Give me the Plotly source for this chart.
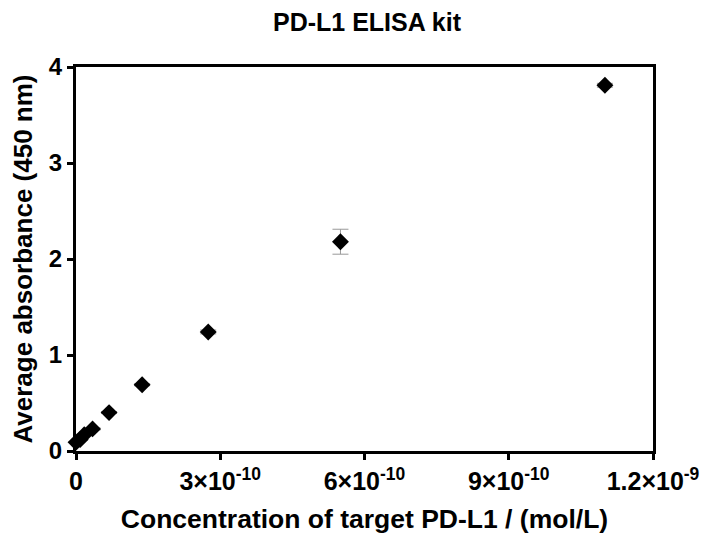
import plotly.graph_objects as go

conc = [0, 8.6e-12, 1.72e-11, 3.44e-11, 6.875e-11, 1.375e-10, 2.75e-10, 5.5e-10, 1.1e-9]
absorb = [0.09, 0.12, 0.17, 0.23, 0.40, 0.69, 1.24, 2.18, 3.81]
err = [0.005, 0.005, 0.005, 0.01, 0.01, 0.01, 0.02, 0.13, 0.02]

x_tickvals = [0, 3e-10, 6e-10, 9e-10, 1.2e-9]
x_ticktext = ["<b>0</b>", "<b>3×10<sup>-10</sup></b>", "<b>6×10<sup>-10</sup></b>",
              "<b>9×10<sup>-10</sup></b>", "<b>1.2×10<sup>-9</sup></b>"]
y_tickvals = [0, 1, 2, 3, 4]
y_ticktext = ["<b>%d</b>" % v for v in y_tickvals]

fig = go.Figure()
fig.add_trace(go.Scatter(
    x=conc, y=absorb, mode="markers",
    marker=dict(symbol="diamond", size=13, color="black"),
    error_y=dict(type="data", array=err, color="#999999", thickness=1, width=8),
    cliponaxis=False, showlegend=False,
))

# page has an 8px body margin, so the figure is 704x527 and shifted accordingly
fig.update_layout(
    width=704, height=527,
    paper_bgcolor="white", plot_bgcolor="white",
    margin=dict(l=68, r=59, t=59, b=84, autoexpand=False),
    font=dict(family="Liberation Sans, Arial, sans-serif", color="black"),
    title=dict(text="<b>PD-L1 ELISA kit</b>", x=(367 - 8) / 704, xanchor="center",
               y=1 - 14 / 527, yanchor="middle", font=dict(size=25, color="black")),
)
fig.update_xaxes(
    range=[0, 1.2e-9], tickvals=x_tickvals, ticktext=x_ticktext,
    showgrid=False, zeroline=False, automargin=False,
    showline=True, linecolor="black", linewidth=3, mirror=True,
    ticks="outside", ticklen=6, tickwidth=3, tickcolor="black",
    tickfont=dict(size=25),
    title=dict(text="<b>Concentration of target PD-L1 / (mol/L)</b>", font=dict(size=26.5), standoff=16),
)
fig.update_yaxes(
    range=[0, 4], tickvals=y_tickvals, ticktext=y_ticktext,
    showgrid=False, zeroline=False, automargin=False,
    showline=True, linecolor="black", linewidth=3, mirror=True,
    ticks="outside", ticklen=6, tickwidth=3, tickcolor="black",
    tickfont=dict(size=24),
    title=dict(text="<b>Average absorbance (450 nm)</b>", font=dict(size=26), standoff=12),
)

fig.write_html("out.html")
